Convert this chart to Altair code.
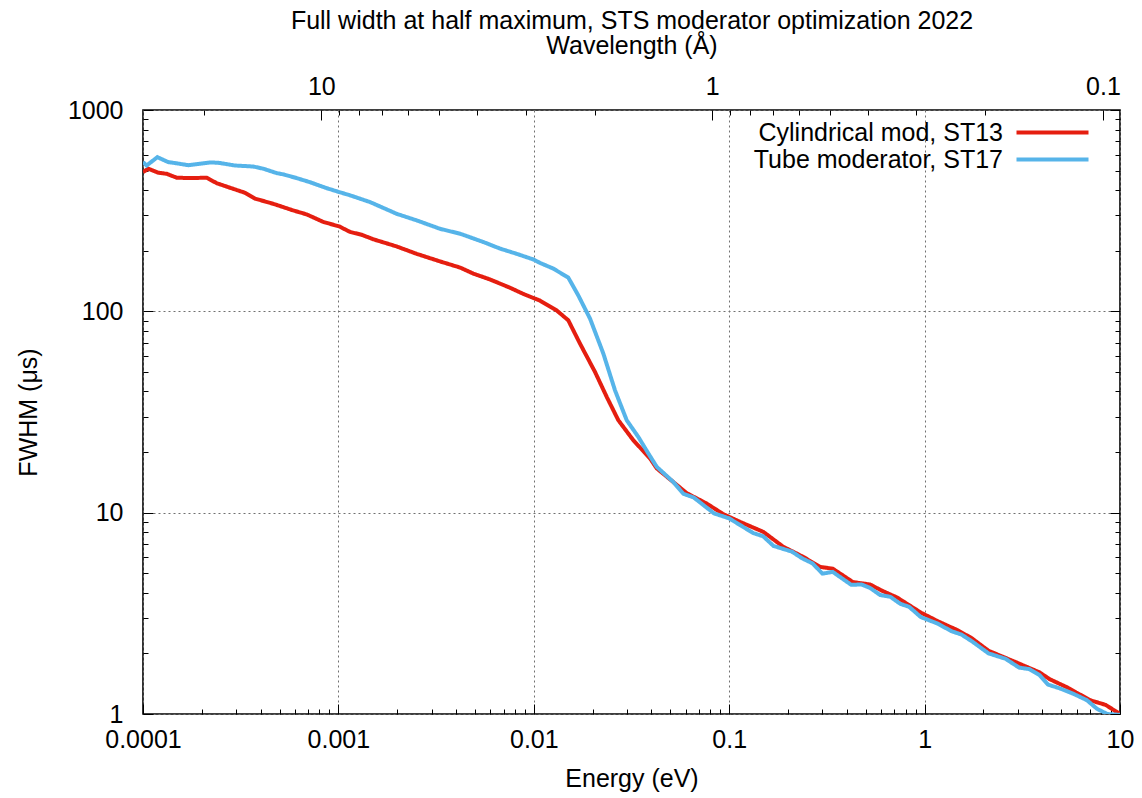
import math
import altair as alt
import pandas as pd

# ---- data ----
series_names = ["Cylindrical mod, ST13", "Tube moderator, ST17"]
series_colors = ["#e51e10", "#56b4e9"]

energy_st13 = [1.0e-4, 1.064e-4, 1.198e-4, 1.322e-4, 1.487e-4, 1.740e-4, 2.118e-4, 2.383e-4,
               2.788e-4, 3.327e-4, 3.743e-4, 4.644e-4, 5.877e-4, 6.88e-4, 8.37e-4, 1.011e-3,
               1.147e-3, 1.316e-3, 1.509e-3, 1.988e-3, 2.515e-3, 3.311e-3, 4.192e-3, 4.90e-3,
               5.966e-3, 7.553e-3, 8.84e-3, 1.076e-2, 1.310e-2, 1.502e-2, 1.724e-2, 2.057e-2,
               2.361e-2, 2.707e-2, 3.23e-2, 3.933e-2, 4.256e-2, 5.175e-2, 6.06e-2, 7.67e-2,
               9.33e-2, 0.1136, 0.1494, 0.1892, 0.2394, 0.2915, 0.3386, 0.430, 0.5255, 0.604,
               0.7232, 0.9563, 1.168, 1.484, 1.742, 2.126, 2.925, 3.873, 4.362, 5.331, 7.047,
               8.44, 10.0]
fwhm_st13 = [491, 511, 488, 482, 461, 459, 461, 433,
             411, 388, 363, 342, 317, 303, 278, 264,
             248, 240, 228, 210, 193, 177, 165, 154,
             144, 131, 122, 113, 101, 90.2, 69.1, 50.0,
             37.6, 28.8, 22.9, 18.6, 16.6, 14.2, 12.5, 11.1,
             9.83, 9.00, 8.03, 6.77, 6.03, 5.38, 5.27, 4.52, 4.40, 4.10,
             3.79, 3.19, 2.89, 2.60, 2.38, 2.06, 1.81, 1.61, 1.49, 1.36, 1.17,
             1.11, 1.00]

energy_st17 = [1.0e-4, 1.044e-4, 1.184e-4, 1.347e-4, 1.458e-4, 1.705e-4, 1.957e-4, 2.202e-4,
               2.429e-4, 2.957e-4, 3.668e-4, 4.127e-4, 4.834e-4, 5.224e-4, 6.116e-4, 7.153e-4,
               8.712e-4, 1.011e-3, 1.147e-3, 1.451e-3, 1.988e-3, 2.515e-3, 3.311e-3, 4.192e-3,
               5.515e-3, 6.714e-3, 8.175e-3, 9.94e-3, 1.076e-2, 1.259e-2, 1.502e-2, 1.689e-2,
               1.94e-2, 2.269e-2, 2.604e-2, 2.988e-2, 3.425e-2, 3.855e-2, 4.256e-2, 5.175e-2,
               5.835e-2, 6.58e-2, 8.36e-2, 0.1001, 0.1324, 0.1493, 0.1684, 0.2097, 0.2364,
               0.2667, 0.3003, 0.3386, 0.4216, 0.4754, 0.5255, 0.5921, 0.6675, 0.7527, 0.8323,
               0.9563, 1.168, 1.370, 1.545, 1.742, 2.126, 2.597, 3.045, 3.434, 3.873, 4.280,
               4.920, 5.775, 6.779, 7.637, 8.61, 10.0]
fwhm_st17 = [551, 530, 583, 551, 545, 532, 541, 549,
             547, 530, 524, 511, 486, 479, 459, 438,
             409, 391, 377, 349, 305, 283, 257, 243,
             221, 205, 193, 181, 174, 163, 147, 120,
             92, 61.7, 40.5, 28.8, 23.8, 19.7, 16.9, 14.2,
             12.4, 11.9, 9.92, 9.36, 7.93, 7.63, 6.84, 6.40, 5.93,
             5.60, 4.98, 5.08, 4.38, 4.40, 4.23, 3.90, 3.82, 3.52, 3.41,
             3.03, 2.81, 2.58, 2.48, 2.30, 2.00, 1.88, 1.70, 1.67, 1.56, 1.40,
             1.34, 1.26, 1.17, 1.06, 1.00, 0.99]

# axis ticks
energy_major = [1e-4, 1e-3, 1e-2, 1e-1, 1, 10]
energy_minor = [m * 10.0 ** k for k in range(-4, 1) for m in range(2, 10)]
fwhm_major = [1, 10, 100, 1000]
fwhm_minor = [m * 10.0 ** k for k in range(0, 3) for m in range(2, 10)]
lam_major = [10, 1, 0.1]
lam_minor = [m * 10.0 ** k for k in (-1, 0, 1) for m in range(2, 10)]

E_PER_AA2 = 0.0818042  # E[eV] = 0.0818 / lambda[A]^2
energy_domain = [1e-4, 10]
fwhm_domain = [1, 1000]
lam_domain = [math.sqrt(E_PER_AA2 / energy_domain[0]), math.sqrt(E_PER_AA2 / energy_domain[1])]
lam_minor = [v for v in lam_minor if lam_domain[1] <= v <= lam_domain[0]]

rows = []
for name, es, fs in [(series_names[0], energy_st13, fwhm_st13),
                     (series_names[1], energy_st17, fwhm_st17)]:
    for e, f in zip(es, fs):
        rows.append({"series": name, "series_lbl": name, "energy": e, "fwhm": f,
                     "lam": math.sqrt(E_PER_AA2 / e)})
df = pd.DataFrame(rows)

W, H = 977, 604
FONT = "Liberation Sans"
FS = 25
GRID = dict(grid=True, gridColor="#707070", gridDash=[2, 3], gridWidth=1)

base = alt.Chart(df)


def x_energy(axis):
    return alt.X("energy:Q", scale=alt.Scale(type="log", domain=energy_domain, nice=False), axis=axis)


def y_fwhm(axis):
    return alt.Y("fwhm:Q", scale=alt.Scale(type="log", domain=fwhm_domain, nice=False), axis=axis)


def x_lam(axis):
    return alt.X("lam:Q", scale=alt.Scale(type="log", domain=lam_domain, nice=False), axis=axis)


lines = base.mark_line(strokeWidth=4, clip=True).encode(
    x=x_energy(alt.Axis(values=energy_major, format="~g", title="Energy (eV)", ticks=False,
                        domain=False, labelPadding=13, labelFont=FONT, labelFontSize=FS,
                        labelColor="black", titleFont=FONT, titleFontSize=FS, titleFontWeight="normal",
                        titleColor="black", titleY=64, titleBaseline="middle", labelFlush=False,
                        **GRID)),
    y=y_fwhm(alt.Axis(values=fwhm_major, format="~g", title="FWHM (μs)", ticks=False,
                      domain=False, labelPadding=20, labelFont=FONT, labelFontSize=FS,
                      labelColor="black", titleFont=FONT, titleFontSize=FS, titleFontWeight="normal",
                      titleColor="black", titleX=-115, titleBaseline="middle", labelFlush=False,
                      **GRID)),
    # legend part 1: the line samples only
    color=alt.Color("series:N", scale=alt.Scale(domain=series_names, range=series_colors),
                    legend=alt.Legend(title=None, orient="none", legendX=857, legendY=10,
                                      symbolType="M-4,0H4", symbolSize=324, symbolStrokeWidth=4,
                                      symbolOffset=40, labelExpr="''", labelFontSize=FS,
                                      rowPadding=1, padding=0)),
    # legend part 2: the right-aligned labels, left of the samples
    strokeDash=alt.StrokeDash("series_lbl:N", scale=alt.Scale(range=[[1, 0], [1, 0]]),
                              legend=alt.Legend(title=None, orient="none", legendX=575, legendY=10,
                                                symbolOpacity=0, symbolSize=324,
                                                symbolStrokeWidth=4,
                                                labelAlign="right", labelOffset=260,
                                                labelFont=FONT, labelFontSize=FS,
                                                labelColor="black", labelLimit=0,
                                                rowPadding=1, padding=0)),
)


def tick_axis(orient, offset, values, size):
    return alt.Axis(orient=orient, offset=offset, values=values, tickSize=size, labels=False,
                    domain=False, grid=False, title=None, tickColor="black", tickWidth=1)


def ghost():
    return base.mark_line(opacity=0)


layers = [lines]
# energy ticks on the bottom edge, pointing inward
for vals, size in [(energy_minor, 5), (energy_major, 10)]:
    layers.append(ghost().encode(x=x_energy(tick_axis("top", -H, vals, size)), y=y_fwhm(None)))
# FWHM ticks on the left and right edges, pointing inward
for vals, size in [(fwhm_minor, 5), (fwhm_major, 10)]:
    layers.append(ghost().encode(x=x_energy(None), y=y_fwhm(tick_axis("right", -W, vals, size))))
    layers.append(ghost().encode(x=x_energy(None), y=y_fwhm(tick_axis("left", -W, vals, size))))
# wavelength axis on top
layers.append(ghost().encode(
    x=x_lam(alt.Axis(orient="top", values=lam_major, format="~g", ticks=False, domain=False,
                     grid=False, labelPadding=11, labelFont=FONT, labelFontSize=FS,
                     labelColor="black", labelFlush=False,
                     title=["Full width at half maximum, STS moderator optimization 2022",
                            "Wavelength (Å)"],
                     titleFont=FONT, titleFontSize=FS, titleFontWeight="normal", titleColor="black",
                     titleBaseline="top", titleLineHeight=25, titleY=-102)),
    y=y_fwhm(None)))
for vals, size in [(lam_minor, 5), (lam_major, 10)]:
    layers.append(ghost().encode(x=x_lam(tick_axis("bottom", -H, vals, size)), y=y_fwhm(None)))

chart = alt.layer(*layers).resolve_scale(
    x="independent", y="independent"
).resolve_axis(
    x="independent", y="independent"
).properties(
    width=W, height=H,
    padding={"left": 143, "top": 110, "right": 22, "bottom": 84},
    autosize=alt.AutoSizeParams(type="none"),
    background="white",
).configure_view(
    stroke="black", strokeWidth=1.6
)

chart.save("out.html", embed_options={"renderer": "svg", "actions": False})
